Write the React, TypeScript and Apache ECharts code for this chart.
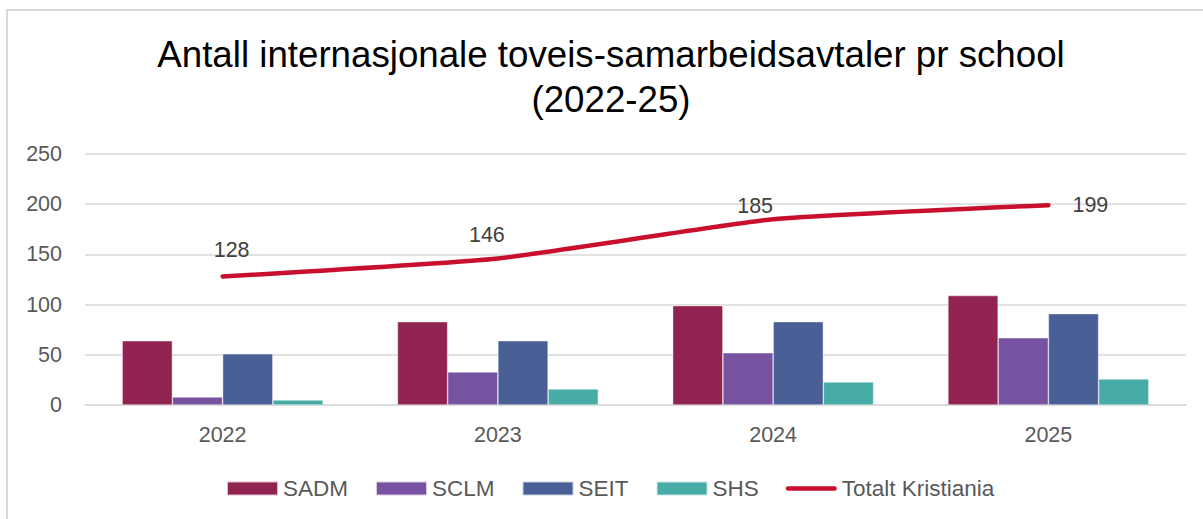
import React, { useEffect, useRef } from "react";
import * as echarts from "echarts";

const categories = ["2022", "2023", "2024", "2025"];
const seriesNames = ["SADM", "SCLM", "SEIT", "SHS"];
const sadm = [64, 83, 99, 109];
const sclm = [8, 33, 52, 67];
const seit = [51, 64, 83, 91];
const shs = [5, 16, 23, 26];
const totalName = "Totalt Kristiania";
const total = [128, 146, 185, 199];
const yTicks = { min: 0, max: 250, interval: 50 };
const titleText = "Antall internasjonale toveis-samarbeidsavtaler pr school\n(2022-25)";

const barColors = ["#912350", "#7652A1", "#4B5F97", "#46ACA5"];
const lineColor = "#C8102E";
const labelOffsets = [
  [9, -26],
  [-11, -23],
  [-18, -13],
  [42, 0],
];

const FONT = "'Liberation Sans', Arial, sans-serif";

export default function App() {
  const ref = useRef<HTMLDivElement>(null);
  useEffect(() => {
    if (!ref.current) return;
    const chart = echarts.init(ref.current, null, { renderer: "svg" });
    const barData = [sadm, sclm, seit, shs];
    const option: any = {
      animation: false,
      backgroundColor: "#ffffff",
      textStyle: { fontFamily: FONT },
      graphic: [
        {
          type: "rect",
          shape: { x: 7, y: 10, width: 1300, height: 700 },
          style: { fill: "none", stroke: "#d9d9d9", lineWidth: 2 },
          silent: true,
        },
        {
          type: "text",
          x: 611,
          y: 32,
          silent: true,
          style: {
            text: titleText,
            fontFamily: FONT,
            fontSize: 36.7,
            fill: "#000000",
            align: "center",
            verticalAlign: "top",
            lineHeight: 45,
          },
        },
      ],
      grid: { left: 85, right: 17, top: 154, bottom: 114, containLabel: false },
      legend: {
        left: 226,
        top: 477,
        padding: 0,
        itemWidth: 51,
        itemHeight: 14,
        itemGap: 27,
        textStyle: { fontFamily: FONT, fontSize: 22.5, color: "#595959", padding: [0, 0, 0, 0] },
        data: [
          ...seriesNames.map((n) => ({ name: n, icon: "rect" })),
          {
            name: totalName,
            icon: "path://M2.5,0 L52.5,0 A2.5,2.5 0 0 1 52.5,5 L2.5,5 A2.5,2.5 0 0 1 2.5,0 Z",
          },
        ],
      },
      xAxis: {
        type: "category",
        data: categories,
        axisLine: { lineStyle: { color: "#d9d9d9", width: 1.5 } },
        axisTick: { show: false },
        axisLabel: { color: "#595959", fontSize: 21.5, margin: 19, fontFamily: FONT },
      },
      yAxis: {
        type: "value",
        min: yTicks.min,
        max: yTicks.max,
        interval: yTicks.interval,
        axisLine: { show: false },
        axisTick: { show: false },
        splitLine: { lineStyle: { color: "#d9d9d9", width: 1.5 } },
        axisLabel: { color: "#595959", fontSize: 21.5, margin: 23, fontFamily: FONT },
      },
      series: [
        ...seriesNames.map((n, i) => ({
          name: n,
          type: "bar",
          data: barData[i],
          barGap: "0%",
          barCategoryGap: "27%",
          itemStyle: {
            color: barColors[i],
            borderColor: "rgba(255,255,255,0.7)",
            borderWidth: 0.6,
          },
        })),
        {
          name: totalName,
          type: "line",
          data: total.map((v, i) => ({
            value: v,
            label: { offset: labelOffsets[i] },
          })),
          smooth: 0.15,
          symbol: "circle",
          symbolSize: 1,
          itemStyle: { color: lineColor },
          lineStyle: { color: lineColor, width: 4.5, cap: "round" },
          label: {
            show: true,
            position: "inside",
            color: "#404040",
            fontSize: 21.5,
            fontFamily: FONT,
          },
          z: 5,
        },
      ],
    };
    chart.setOption(option);
    return () => chart.dispose();
  }, []);
  return (
    <div
      ref={ref}
      style={{ position: "fixed", left: 0, top: 0, width: 1203, height: 519 }}
    />
  );
}
